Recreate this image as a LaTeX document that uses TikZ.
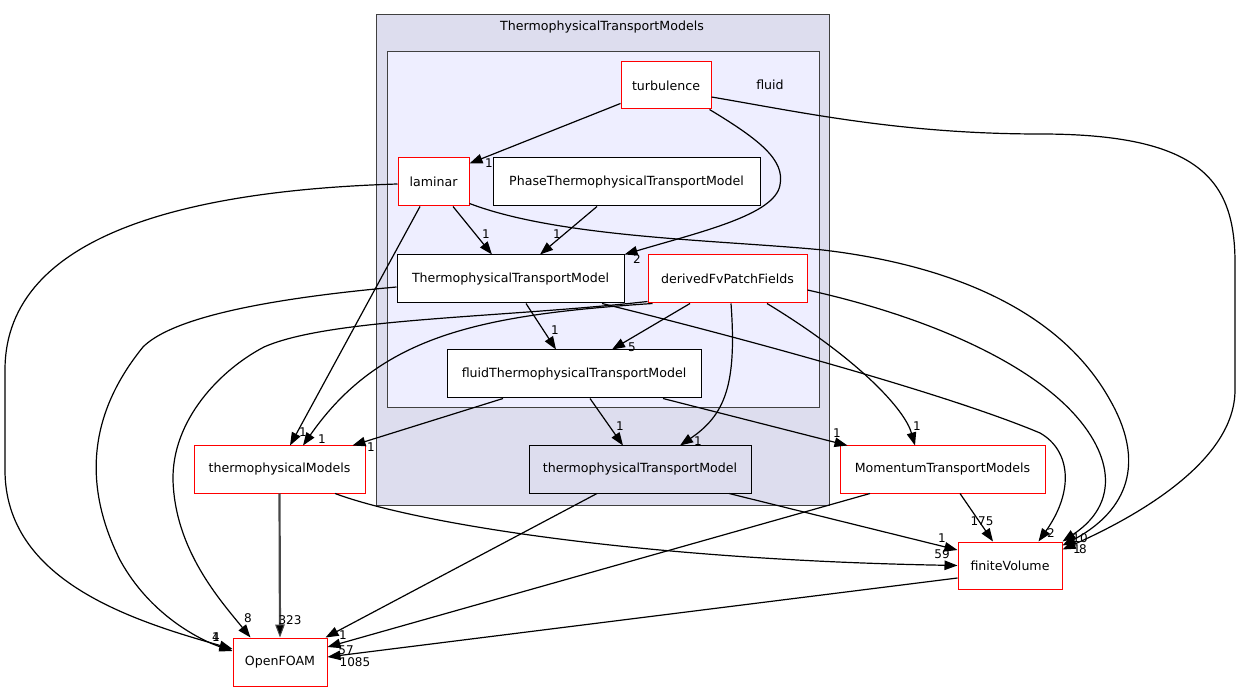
\documentclass[tikz,border=0pt]{standalone}
\usepackage{fontspec}
\setmainfont{DejaVu Sans}
\usetikzlibrary{arrows.meta,calc}
\definecolor{clA}{HTML}{DDDDEE}
\definecolor{clB}{HTML}{EEEEFF}
\definecolor{clBorder}{HTML}{404040}
\begin{document}
\begin{tikzpicture}[x=1pt,y=-1pt,
  box/.style={draw, fill=white, line width=1pt, inner sep=0pt, font=\fontsize{12.6}{15}\selectfont},
  redbox/.style={box, draw=red},
  blackbox/.style={box, draw=black},
  cluster/.style={draw=clBorder, line width=1pt, inner sep=0pt},
  ctext/.style={font=\fontsize{12.6}{15}\selectfont, inner sep=0pt},
  lbl/.style={font=\fontsize{12}{14}\selectfont, inner sep=0pt},
  edge/.style={draw=black, line width=1.2pt, -{Triangle[length=13pt,width=9.5pt]}}]
\useasboundingbox (0,0) rectangle (1240,692);
\fill[white] (0,0) rectangle (1240,692);
% clusters
\node[cluster, fill=clA, minimum width=453pt, minimum height=490pt] (cOuter) at (602.5,260) {};
\node[cluster, fill=clB, minimum width=432pt, minimum height=356pt] (cInner) at (603,230) {};
\node[ctext] (cOuterLbl) at (602,27) {ThermophysicalTransportModels};
\node[ctext] (cInnerLbl) at (770,85) {fluid};
% nodes
\node[redbox, minimum width=90pt, minimum height=47pt] (turb) at (666,85.5) {turbulence};
\node[redbox, minimum width=71pt, minimum height=48pt] (lam) at (433.5,182) {laminar};
\node[blackbox, minimum width=267pt, minimum height=48pt] (phase) at (626.5,182) {PhaseThermophysicalTransportModel};
\node[blackbox, minimum width=227pt, minimum height=48pt] (ttm) at (510.5,279) {ThermophysicalTransportModel};
\node[redbox, minimum width=159pt, minimum height=48pt] (dfp) at (727.5,279) {derivedFvPatchFields};
\node[blackbox, minimum width=254pt, minimum height=48pt] (fluidm) at (574,374) {fluidThermophysicalTransportModel};
\node[blackbox, fill=clA, minimum width=222pt, minimum height=47pt] (tpm) at (640,469.5) {thermophysicalTransportModel};
\node[redbox, minimum width=171pt, minimum height=47pt] (tm) at (279.5,469.5) {thermophysicalModels};
\node[redbox, minimum width=205pt, minimum height=47pt] (mom) at (942.5,469.5) {MomentumTransportModels};
\node[redbox, minimum width=104pt, minimum height=47pt] (fv) at (1010,565.5) {finiteVolume};
\node[redbox, minimum width=94pt, minimum height=48pt] (of) at (280,662) {OpenFOAM};
% edges
\draw[edge] ($(turb.south west)+(0,-6)$) -- ($(lam.north east)+(0,6)$);
\draw[edge] ($(turb.south east)+(-2,0)$) .. controls (760,140) and (785,160) .. (780,185) .. controls (775,215) and (700,232) .. (ttm.north east);
\draw[edge] ($(turb.east)+(0,11.5)$) .. controls (800,112) and (900,134) .. (1040,134) .. controls (1200,134) and (1235,180) .. (1235,263) -- (1235,390) .. controls (1235,460) and (1140,515) .. ($(fv.north east)+(0,8)$);
\draw[edge] ($(lam.south)+(19.5,0)$) -- ($(ttm.north)+(-18.5,0)$);
\draw[edge] ($(lam.south)+(-13.5,0)$) -- ($(tm.north)+(10.5,0)$);
\draw[edge] ($(lam.west)+(0,2)$) .. controls (200,190) and (5,230) .. (5,370) -- (5,470) .. controls (5,580) and (130,620) .. ($(of.west)+(0,-13)$);
\draw[edge] ($(ttm.west)+(0,8)$) .. controls (230,302) and (165,325) .. (143,347) .. controls (100,400) and (75,470) .. (120,560) .. controls (150,615) and (200,640) .. ($(of.west)+(0,-11)$);
\draw[edge] ($(dfp.south west)+(0,-2)$) .. controls (500,318) and (330,318) .. (264,347) .. controls (220,370) and (172,420) .. (173,480) .. controls (175,550) and (220,600) .. ($(of.north west)+(18,0)$);
\draw[edge] ($(dfp.south west)+(5,0)$) .. controls (480,315) and (380,335) .. ($(tm.north)+(23.5,0)$);
\draw[edge] ($(phase.south)+(-29.5,0)$) -- ($(ttm.north)+(29.5,0)$);
\draw[edge] ($(ttm.south)+(15.5,0)$) -- ($(fluidm.north)+(-18,0)$);
\draw[edge] ($(ttm.south)+(91.5,0)$) .. controls (750,340) and (950,395) .. (1040,433) .. controls (1070,450) and (1075,490) .. ($(fv.north east)+(-24,0)$);
\draw[edge] ($(dfp.south)+(-37.5,0)$) -- ($(fluidm.north)+(38,0)$);
\draw[edge] ($(dfp.south)+(3.5,0)$) .. controls (737,385) and (725,415) .. ($(tpm.north)+(40,0)$);
\draw[edge] ($(dfp.south)+(39.5,0)$) .. controls (860,360) and (905,410) .. ($(mom.north)+(-27.5,0)$);
\draw[edge] ($(dfp.east)+(0,11)$) .. controls (920,315) and (1010,355) .. (1060,400) .. controls (1110,445) and (1125,500) .. (fv.north east);
\draw[edge] ($(lam.south east)+(0,-3)$) .. controls (560,238) and (720,240) .. (823,250) .. controls (950,265) and (1060,310) .. (1110,400) .. controls (1150,470) and (1120,515) .. ($(fv.north east)+(0,4)$);
\draw[edge] ($(fluidm.south)+(-71,0)$) -- ($(tm.north east)+(-13,0)$);
\draw[edge] ($(fluidm.south)+(16,0)$) -- ($(tpm.north)+(-17,0)$);
\draw[edge] ($(fluidm.south)+(89,0)$) -- ($(mom.north west)+(8,0)$);
\draw[edge] ($(tpm.south)+(-43,0)$) -- ($(of.north east)+(-2,0)$);
\draw[edge] ($(tpm.south)+(89,0)$) -- ($(fv.west)+(0,-15.5)$);
\draw[edge, draw=black!72, line width=2.2pt, -{Triangle[length=13pt,width=9.5pt,fill=black,line width=1pt]}] (tm.south) -- (of.north);
\draw[edge] ($(tm.south)+(55.5,0)$) .. controls (420,525) and (650,560) .. (fv.west);
\draw[edge] ($(mom.south)+(-72.5,0)$) -- ($(of.east)+(0,-15)$);
\draw[edge] ($(mom.south)+(17.5,0)$) -- ($(fv.north)+(-17,0)$);
\draw[edge] ($(fv.west)+(0,12.5)$) -- ($(of.east)+(0,-5)$);
% edge labels
\node[lbl] (l1) at (489,163) {1};
\node[lbl] (l2) at (637,259) {2};
\node[lbl] (l3) at (1083,549) {8};
\node[lbl] (l4) at (486,234) {1};
\node[lbl] (l5) at (303,432) {1};
\node[lbl] (l6) at (216,637) {4};
\node[lbl] (l7) at (216,637) {1};
\node[lbl] (l8) at (557,234) {1};
\node[lbl] (l9) at (555,330) {1};
\node[lbl] (l10) at (1051,533) {2};
\node[lbl] (l11) at (248,618) {8};
\node[lbl] (l12) at (322,439) {1};
\node[lbl] (l13) at (632,347) {5};
\node[lbl] (l14) at (698,441) {1};
\node[lbl] (l15) at (917,426) {1};
\node[lbl] (l16) at (1080,538) {10};
\node[lbl] (l17) at (1077,549) {1};
\node[lbl] (l18) at (371,447) {1};
\node[lbl] (l19) at (620,426) {1};
\node[lbl] (l20) at (837,433) {1};
\node[lbl] (l21) at (343,635) {1};
\node[lbl] (l22) at (942,538) {1};
\node[lbl] (l23) at (290,620) {323};
\node[lbl] (l24) at (942,554) {59};
\node[lbl] (l25) at (346,650) {57};
\node[lbl] (l26) at (982,521) {175};
\node[lbl] (l27) at (355,662) {1085};
\end{tikzpicture}
\end{document}
